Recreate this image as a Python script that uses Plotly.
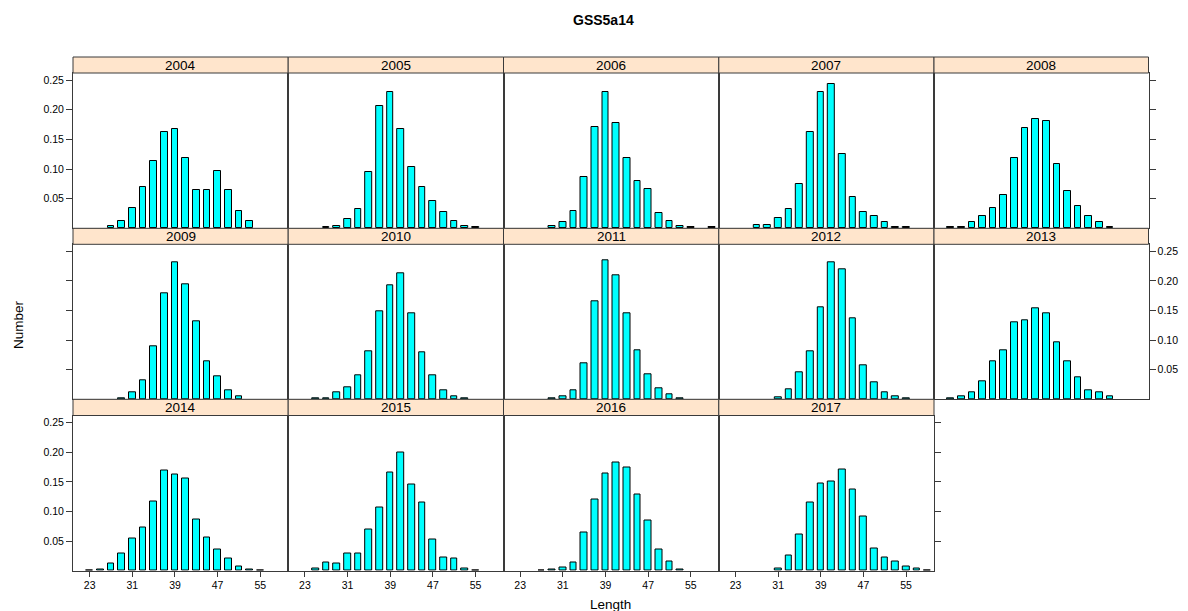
import plotly.graph_objects as go

W, H = 1188, 611

years = ["2004", "2005", "2006", "2007", "2008", "2009", "2010",
         "2011", "2012", "2013", "2014", "2015", "2016", "2017"]

len_2004 = [27, 29, 31, 33, 35, 37, 39, 41, 43, 45, 47, 49, 51, 53]
num_2004 = [0.004, 0.012, 0.035, 0.069, 0.114, 0.163, 0.167, 0.118, 0.064, 0.065, 0.097, 0.065, 0.029, 0.013]

len_2005 = [27, 29, 31, 33, 35, 37, 39, 41, 43, 45, 47, 49, 51, 53, 55]
num_2005 = [0.002, 0.004, 0.016, 0.032, 0.095, 0.206, 0.230, 0.167, 0.104, 0.069, 0.046, 0.027, 0.013, 0.004, 0.002]

len_2006 = [29, 31, 33, 35, 37, 39, 41, 43, 45, 47, 49, 51, 53, 55, 59]
num_2006 = [0.004, 0.011, 0.029, 0.086, 0.171, 0.230, 0.177, 0.118, 0.079, 0.066, 0.025, 0.013, 0.004, 0.002, 0.002]

len_2007 = [27, 29, 31, 33, 35, 37, 39, 41, 43, 45, 47, 49, 51, 53, 55]
num_2007 = [0.006, 0.005, 0.018, 0.032, 0.075, 0.163, 0.230, 0.244, 0.126, 0.052, 0.028, 0.020, 0.010, 0.002, 0.002]

len_2008 = [23, 25, 27, 29, 31, 33, 35, 37, 39, 41, 43, 45, 47, 49, 51, 53]
num_2008 = [0.002, 0.002, 0.011, 0.020, 0.035, 0.057, 0.118, 0.169, 0.184, 0.181, 0.109, 0.0625, 0.037, 0.020, 0.011, 0.002]

len_2009 = [29, 31, 33, 35, 37, 39, 41, 43, 45, 47, 49, 51]
num_2009 = [0.002, 0.011, 0.032, 0.090, 0.180, 0.231, 0.195, 0.132, 0.065, 0.0385, 0.015, 0.005]

len_2010 = [25, 27, 29, 31, 33, 35, 37, 39, 41, 43, 45, 47, 49, 51, 53]
num_2010 = [0.002, 0.002, 0.011, 0.020, 0.041, 0.081, 0.148, 0.192, 0.213, 0.145, 0.079, 0.041, 0.016, 0.005, 0.002]

len_2011 = [29, 31, 33, 35, 37, 39, 41, 43, 45, 47, 49, 51, 53]
num_2011 = [0.002, 0.0045, 0.015, 0.061, 0.165, 0.235, 0.210, 0.146, 0.083, 0.042, 0.018, 0.0085, 0.002]

len_2012 = [31, 33, 35, 37, 39, 41, 43, 45, 47, 49, 51, 53, 55]
num_2012 = [0.0035, 0.017, 0.045, 0.081, 0.155, 0.231, 0.220, 0.137, 0.058, 0.028, 0.012, 0.0045, 0.002]

len_2013 = [23, 25, 27, 29, 31, 33, 35, 37, 39, 41, 43, 45, 47, 49, 51, 53]
num_2013 = [0.002, 0.005, 0.012, 0.030, 0.0635, 0.082, 0.130, 0.134, 0.154, 0.146, 0.096, 0.065, 0.038, 0.015, 0.012, 0.005]

len_2014 = [23, 25, 27, 29, 31, 33, 35, 37, 39, 41, 43, 45, 47, 49, 51, 53, 55]
num_2014 = [0.0011, 0.003, 0.012, 0.029, 0.055, 0.073, 0.117, 0.170, 0.162, 0.155, 0.087, 0.057, 0.036, 0.020, 0.008, 0.003, 0.001]

len_2015 = [25, 27, 29, 31, 33, 35, 37, 39, 41, 43, 45, 47, 49, 51, 53, 55]
num_2015 = [0.0045, 0.0135, 0.012, 0.030, 0.029, 0.069, 0.106, 0.166, 0.199, 0.145, 0.115, 0.0535, 0.022, 0.020, 0.0045, 0.001]

len_2016 = [27, 29, 31, 33, 35, 37, 39, 41, 43, 45, 47, 49, 51, 53]
num_2016 = [0.001, 0.003, 0.0056, 0.014, 0.064, 0.1205, 0.164, 0.182, 0.175, 0.129, 0.085, 0.0355, 0.015, 0.003]

len_2017 = [31, 33, 35, 37, 39, 41, 43, 45, 47, 49, 51, 53, 55, 57, 59]
num_2017 = [0.0045, 0.026, 0.061, 0.1155, 0.1465, 0.150, 0.171, 0.138, 0.092, 0.038, 0.022, 0.015, 0.008, 0.0045, 0.001]

x_ticks = [23, 31, 39, 47, 55]
y_ticks = [0.05, 0.10, 0.15, 0.20, 0.25]

series = {
    "2004": (len_2004, num_2004), "2005": (len_2005, num_2005),
    "2006": (len_2006, num_2006), "2007": (len_2007, num_2007),
    "2008": (len_2008, num_2008), "2009": (len_2009, num_2009),
    "2010": (len_2010, num_2010), "2011": (len_2011, num_2011),
    "2012": (len_2012, num_2012), "2013": (len_2013, num_2013),
    "2014": (len_2014, num_2014), "2015": (len_2015, num_2015),
    "2016": (len_2016, num_2016), "2017": (len_2017, num_2017),
}

# layout geometry (pixels)
col_edges = [73, 288.2, 503.5, 718.8, 934, 1148.5]
rows = [  # (strip_top, panel_top, panel_bottom)
    (57, 73, 228.3),
    (228.3, 244.3, 399.3),
    (399.3, 415.5, 570.8),
]
XR = [19.87, 60.24]
YR = [0, 0.262]
FONT = "Liberation Sans, Arial, sans-serif"
TITLE_FONT = "Liberation Sans Narrow, Arial Narrow, Liberation Sans, Arial, sans-serif"
BORDER = "#3a3a3a"
STRIP = "#FFE5CC"


def px_x(p):
    return p / W


def px_y(p):
    return 1 - p / H


fig = go.Figure()
shapes = []
annotations = []

for i, yr in enumerate(years):
    r, c = divmod(i, 5)
    n = i + 1
    xa = "xaxis" if n == 1 else f"xaxis{n}"
    ya = "yaxis" if n == 1 else f"yaxis{n}"
    xref = "x" if n == 1 else f"x{n}"
    yref = "y" if n == 1 else f"y{n}"
    x0, x1 = col_edges[c], col_edges[c + 1]
    st, pt, pb = rows[r]

    xs, ys = series[yr]
    fig.add_trace(go.Bar(
        x=xs, y=ys, width=1.25, xaxis=xref, yaxis=yref,
        marker=dict(color="#00FFFF", line=dict(color="#000000", width=1)),
        showlegend=False, hoverinfo="x+y",
    ))

    bottom_row = (r == 2)
    xaxis = dict(
        domain=[px_x(x0), px_x(x1)], range=XR, anchor=yref,
        showgrid=False, zeroline=False, showline=True, mirror=True,
        linecolor=BORDER, linewidth=1,
        tickvals=x_ticks, ticktext=[str(v) for v in x_ticks],
        ticks="outside" if bottom_row else "", ticklen=5, tickcolor=BORDER,
        showticklabels=bottom_row,
        tickfont=dict(family=FONT, size=10.5, color="#000"),
        fixedrange=True,
    )
    yaxis = dict(
        domain=[px_y(pb), px_y(pt)], range=YR, anchor=xref,
        showgrid=False, zeroline=False, showline=True, mirror=True,
        linecolor=BORDER, linewidth=1,
        tickvals=y_ticks, ticktext=[f"{v:.2f}" for v in y_ticks],
        ticks="", ticklen=6, tickcolor=BORDER, showticklabels=False,
        tickfont=dict(family=FONT, size=10.5, color="#000"),
        fixedrange=True,
    )
    if c == 0:
        yaxis.update(side="left", ticks="outside", showticklabels=(r != 1))
    if (c == 4) or (r == 2 and c == 3):
        yaxis.update(side="right", ticks="outside", showticklabels=(r == 1))
    fig.update_layout({xa: xaxis, ya: yaxis})

    # strip
    shapes.append(dict(
        type="rect", xref="paper", yref="paper",
        x0=px_x(x0), x1=px_x(x1), y0=px_y(pt), y1=px_y(st),
        fillcolor=STRIP, line=dict(color=BORDER, width=1), layer="above",
    ))
    annotations.append(dict(
        text=yr, xref="paper", yref="paper",
        x=px_x((x0 + x1) / 2), y=px_y((st + pt) / 2),
        xanchor="center", yanchor="middle", showarrow=False,
        font=dict(family=FONT, size=13.5, color="#000"),
    ))

annotations.append(dict(
    text="<b>GSS5a14</b>", xref="paper", yref="paper",
    x=px_x(603), y=px_y(20), xanchor="center", yanchor="middle",
    showarrow=False, font=dict(family=TITLE_FONT, size=14, color="#000"),
))
annotations.append(dict(
    text="Number", xref="paper", yref="paper",
    x=px_x(18), y=px_y(325), xanchor="center", yanchor="middle",
    textangle=-90, showarrow=False, font=dict(family=FONT, size=13.5, color="#000"),
))
annotations.append(dict(
    text="Length", xref="paper", yref="paper",
    x=px_x(610), y=px_y(604), xanchor="center", yanchor="middle",
    showarrow=False, font=dict(family=FONT, size=13.5, color="#000"),
))

fig.update_layout(
    width=W, height=H, margin=dict(l=0, r=0, t=0, b=0),
    paper_bgcolor="white", plot_bgcolor="white",
    shapes=shapes, annotations=annotations, bargap=0,
    showlegend=False,
)

fig.write_html("out.html")
